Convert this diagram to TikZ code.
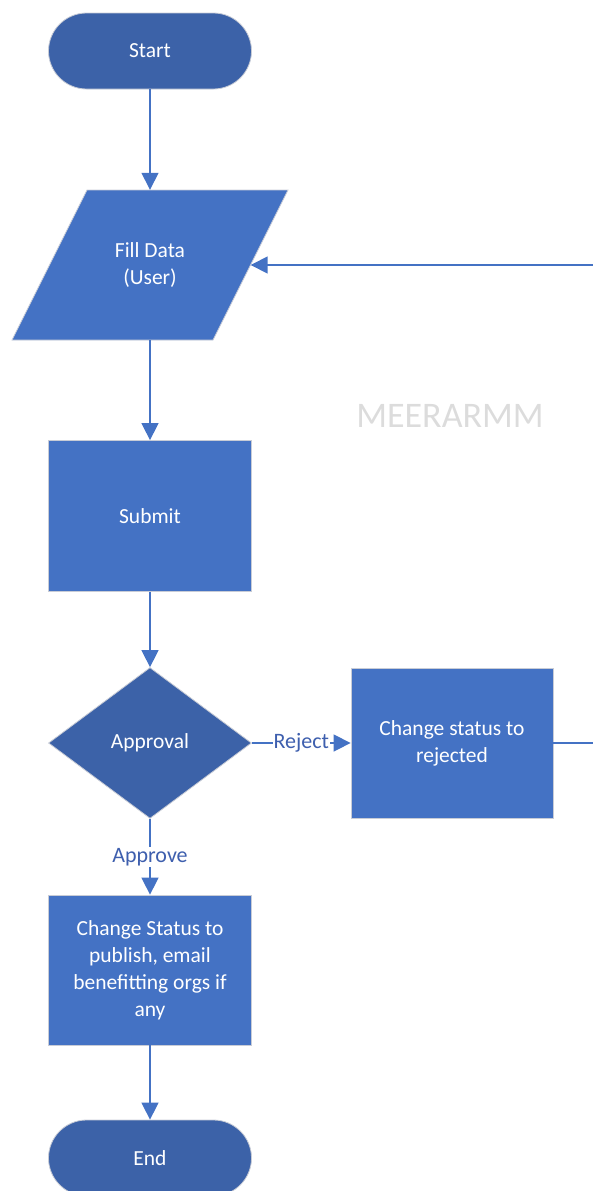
\documentclass[tikz,border=0pt]{standalone}
\usepackage{fontspec}
\setmainfont{Carlito}
\usetikzlibrary{shapes.geometric,arrows.meta}
\definecolor{boxblue}{HTML}{4472C4}
\definecolor{darkblue}{HTML}{3C62A8}
\definecolor{edgegray}{HTML}{C8CCD6}
\definecolor{labelblue}{HTML}{3E5FAE}
\definecolor{wmgray}{HTML}{DCDCDC}
\begin{document}
\begin{tikzpicture}[x=1pt,y=1pt,
  txt/.style={text=white,font=\fontsize{21.5}{27}\selectfont,align=center},
  term/.style={txt,draw=edgegray,line width=0.8pt,fill=darkblue,rounded corners=38pt,minimum width=203pt,minimum height=76pt,inner sep=0pt},
  procbox/.style={txt,draw=edgegray,line width=0.8pt,fill=boxblue,minimum width=203pt,minimum height=151pt,inner sep=0pt},
  decide/.style={txt,diamond,draw=edgegray,line width=0.8pt,fill=darkblue,minimum width=203pt,minimum height=151pt,inner sep=0pt},
  flow/.style={draw=boxblue,line width=1.5pt,-{Triangle[width=17pt,length=17pt]}},
  lbl/.style={text=labelblue,font=\fontsize{22}{24}\selectfont,fill=white,inner sep=1pt}
]
\useasboundingbox (0,0) rectangle (593,-1191);
\clip (0,0) rectangle (593,-1191);

\node[term] (start) at (150,-51) {Start};

\fill[boxblue,draw=edgegray,line width=0.8pt] (87,-190) -- (288,-190) -- (213,-340) -- (12,-340) -- cycle;
\node[txt,minimum width=201pt,minimum height=150pt,inner sep=0pt] (filldata) at (150,-265) {Fill Data\\(User)};

\node[procbox] (submit) at (150,-516) {Submit};
\node[decide] (approval) at (150,-743) {Approval};
\node[procbox,minimum width=202pt,minimum height=150pt] (rejected) at (452,-743) {Change status to\\rejected};
\node[procbox,minimum height=150pt] (publish) at (150,-970) {Change Status to\\publish, email\\benefitting orgs if\\any};
\node[term] (end) at (150,-1158) {End};

\node[text=wmgray,font=\fontsize{36}{40}\selectfont] (wm) at (450,-416) {MEERARMM};

\coordinate (loopA) at (615,-743);
\coordinate (loopB) at (615,-265);

\draw[flow] (start.south) -- (filldata.north);
\draw[flow] (filldata.south) -- (submit.north);
\draw[flow] (submit.south) -- (approval.north);
\draw[flow] (approval.east) -- node[lbl] {Reject} (rejected.west);
\draw[flow] (approval.south) -- node[lbl] {Approve} (publish.north);
\draw[flow] (publish.south) -- (end.north);
\draw[flow] (rejected.east) -- (loopA) -- (loopB) -- (filldata.east);
\end{tikzpicture}
\end{document}
